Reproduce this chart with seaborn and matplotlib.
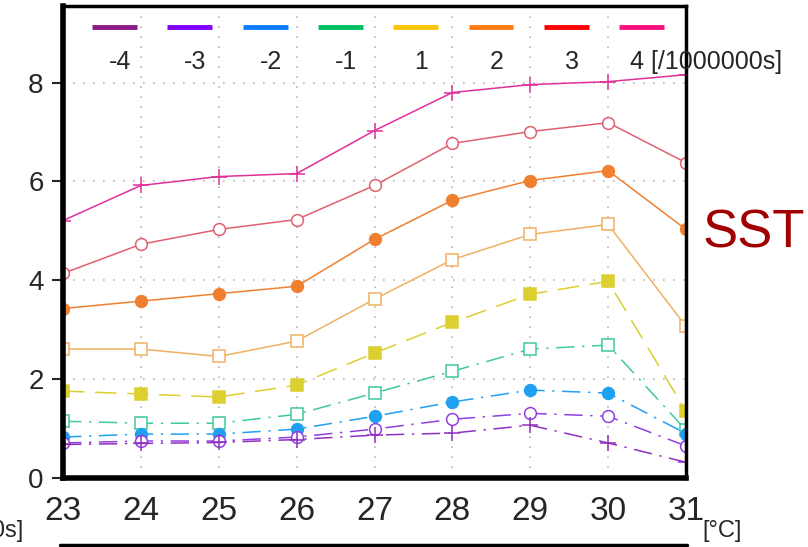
import matplotlib
matplotlib.use('Agg')
import matplotlib.pyplot as plt
from matplotlib.lines import Line2D
import seaborn as sns
import pandas as pd

sst = [23, 24, 25, 26, 27, 28, 29, 30, 31]

s_p4 = [5.21, 5.92, 6.10, 6.16, 7.03, 7.80, 7.96, 8.02, 8.16]
s_p3 = [4.14, 4.73, 5.03, 5.23, 5.92, 6.77, 7.01, 7.19, 6.38]
s_p2 = [3.43, 3.58, 3.73, 3.88, 4.83, 5.62, 6.02, 6.22, 5.03]
s_p1 = [2.61, 2.61, 2.46, 2.77, 3.62, 4.42, 4.93, 5.13, 3.07]
s_0 = [1.76, 1.70, 1.64, 1.88, 2.53, 3.15, 3.72, 3.98, 1.35]
s_m1 = [1.15, 1.11, 1.11, 1.29, 1.72, 2.16, 2.61, 2.69, 0.97]
s_m2 = [0.83, 0.89, 0.89, 0.99, 1.25, 1.54, 1.78, 1.72, 0.90]
s_m3 = [0.71, 0.75, 0.75, 0.83, 0.99, 1.19, 1.31, 1.25, 0.65]
s_m4 = [0.68, 0.70, 0.72, 0.78, 0.87, 0.91, 1.07, 0.71, 0.32]

legend_labels = ['-4', '-3', '-2', '-1', '1', '2', '3', '4 [/1000000s]']
legend_colors = ['#8b1a89', '#8000ff', '#0a7cff', '#00c060',
                 '#ffc400', '#ff7a10', '#ff0000', '#ff1080']

# (data, colour, marker, filled, dashes)
series = [
    (s_p4, '#e0309a', '+', False, None),
    (s_p3, '#e06070', 'o', False, None),
    (s_p2, '#f08030', 'o', True, None),
    (s_p1, '#f0b060', 's', False, None),
    (s_0, '#dccf30', 's', True, (14, 7)),
    (s_m1, '#40c8a0', 's', False, (12, 5, 1.5, 5)),
    (s_m2, '#20a0f0', 'o', True, (12, 5, 1.5, 5)),
    (s_m3, '#9040e0', 'o', False, (12, 5, 1.5, 5)),
    (s_m4, '#9030c0', '+', False, (12, 5, 1.5, 5)),
]

sns.set_style('white')
plt.rcParams['font.family'] = ['Liberation Sans', 'DejaVu Sans']

fig = plt.figure(figsize=(8.08, 5.47), dpi=100)
ax = fig.add_axes([0.078, 0.126, 0.771, 0.863])

for vals, col, mk, filled, dash in series:
    df = pd.DataFrame({'sst': sst, 'v': vals})
    kw = dict(marker=mk, markersize=8.5 if mk != '+' else 11, markeredgecolor=col,
              markerfacecolor=col if filled else 'white', markeredgewidth=1.1)
    sns.lineplot(data=df, x='sst', y='v', ax=ax, color=col, linewidth=1.1, **kw)
    if dash is not None:
        ax.lines[-1].set_dashes(dash)

ax.set_xlim(23, 31)
ax.set_ylim(0, 9.55)
ax.set_xticks(sst)
ax.set_yticks([0, 2, 4, 6, 8])
ax.set_xlabel('')
ax.set_ylabel('')
ax.grid(True, color='#b8b8b8', linestyle=(0, (1, 5)), linewidth=1.2)
ax.tick_params(axis='y', labelsize=20, length=8, width=1.5, left=True, pad=6)
ax.tick_params(axis='x', labelsize=24, length=0, pad=13)
for side in ['left', 'bottom']:
    ax.spines[side].set_linewidth(4)
for side in ['top', 'right']:
    ax.spines[side].set_linewidth(2.5)
for sp in ax.spines.values():
    sp.set_color('black')

# legend row: handle on top, label beneath
n = len(legend_labels)
for i in range(n):
    xc = (114.5 + 75.3 * i - 63) / 623
    ax.plot([xc - 0.036, xc + 0.036], [0.955, 0.955], transform=ax.transAxes,
            color=legend_colors[i], linewidth=3.5, solid_capstyle='butt', clip_on=False)
    if i < n - 1:
        ax.text(xc + 0.009, 0.882, legend_labels[i], transform=ax.transAxes,
                ha='center', va='center', fontsize=18)
    else:
        ax.text(xc - 0.018, 0.882, legend_labels[i], transform=ax.transAxes,
                ha='left', va='center', fontsize=18)

fig.text(703 / 808, 1 - 233 / 547, 'SST', color='#a00000', fontsize=38,
         ha='left', va='center')
fig.text(24 / 808, 1 - 531 / 547, '[/1000000s]', fontsize=17, ha='right', va='center')
fig.text(702 / 808, 1 - 531 / 547, '[°C]', fontsize=17, ha='left', va='center')
fig.add_artist(Line2D([60 / 808, 687 / 808], [1 - 545 / 547] * 2, color='black',
                      linewidth=2.5, transform=fig.transFigure))

fig.savefig('out.png', dpi=100)
